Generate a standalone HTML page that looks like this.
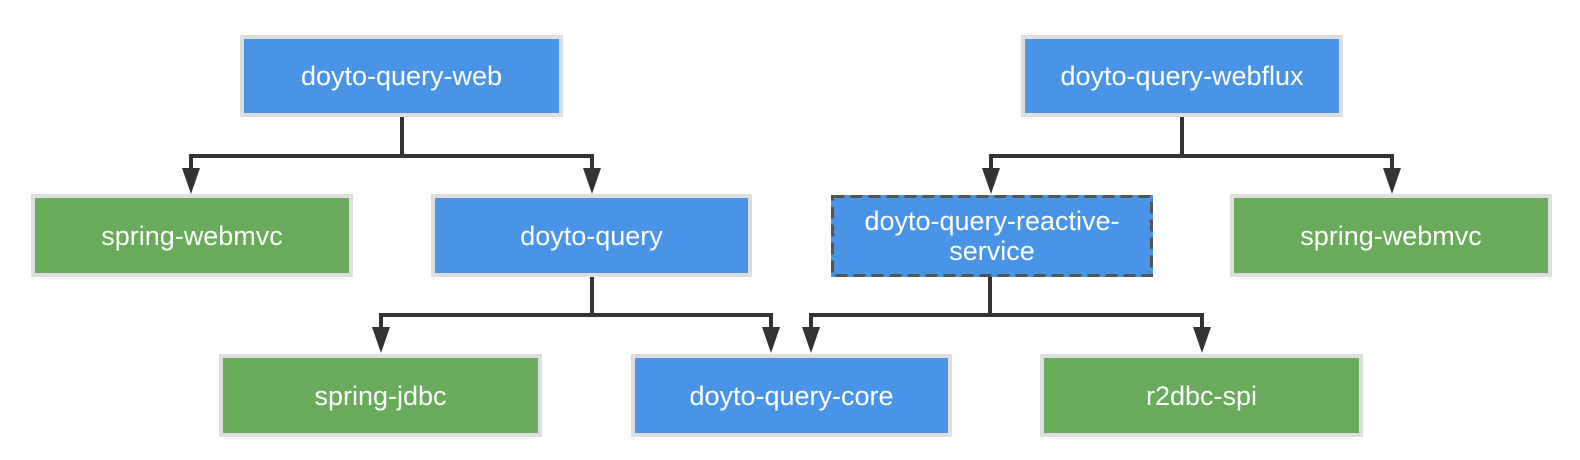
<!DOCTYPE html>
<html><head><meta charset="utf-8"><style>
html,body{margin:0;padding:0;background:#fff;}
body{width:1580px;height:460px;position:relative;overflow:hidden;font-family:"Liberation Sans",sans-serif;}
.b{position:absolute;box-sizing:border-box;border:4px solid #dedede;color:#fff;font-size:27px;display:flex;align-items:center;justify-content:center;text-align:center;line-height:30px;}
.bl{background:#4a94e8;}
.gr{background:#67ab5b;}
.d{border:none;}
svg{position:absolute;left:0;top:0;}
</style></head><body>
<svg width="1580" height="460">
<g stroke="#333" stroke-width="4" fill="none">
<path d="M402 117V156M191 156H592M191 154V172M592 154V172"/>
<path d="M1182 117V156M991 156H1392M991 154V172M1392 154V172"/>
<path d="M592 277V315M381 315H771M381 313V330M771 313V330"/>
<path d="M990 277V315M811 315H1202M811 313V330M1202 313V330"/>
</g>
<g fill="#333">
<path d="M182 168H200L191 194Z"/><path d="M583 168H601L592 194Z"/>
<path d="M982 168H1000L991 194Z"/><path d="M1383 168H1401L1392 194Z"/>
<path d="M372 327H390L381 353Z"/><path d="M762 327H780L771 353Z"/>
<path d="M802 327H820L811 353Z"/><path d="M1193 327H1211L1202 353Z"/>
</g>
</svg>
<div class="b bl" style="left:240px;top:35px;width:323px;height:82px">doyto-query-web</div>
<div class="b bl" style="left:1021px;top:35px;width:322px;height:82px">doyto-query-webflux</div>
<div class="b gr" style="left:31px;top:194px;width:322px;height:83px">spring-webmvc</div>
<div class="b bl" style="left:431px;top:194px;width:321px;height:83px">doyto-query</div>
<div class="b bl d" style="left:831px;top:195px;width:322px;height:82px">doyto-query-reactive-<br>service</div>
<svg width="1580" height="460" style="pointer-events:none"><rect x="832.5" y="196.5" width="319" height="79" fill="none" stroke="#555" stroke-width="3" stroke-dasharray="12 6"/></svg>
<div class="b gr" style="left:1230px;top:194px;width:322px;height:83px">spring-webmvc</div>
<div class="b gr" style="left:219px;top:354px;width:323px;height:83px">spring-jdbc</div>
<div class="b bl" style="left:631px;top:354px;width:321px;height:83px">doyto-query-core</div>
<div class="b gr" style="left:1040px;top:354px;width:323px;height:83px">r2dbc-spi</div>
</body></html>
